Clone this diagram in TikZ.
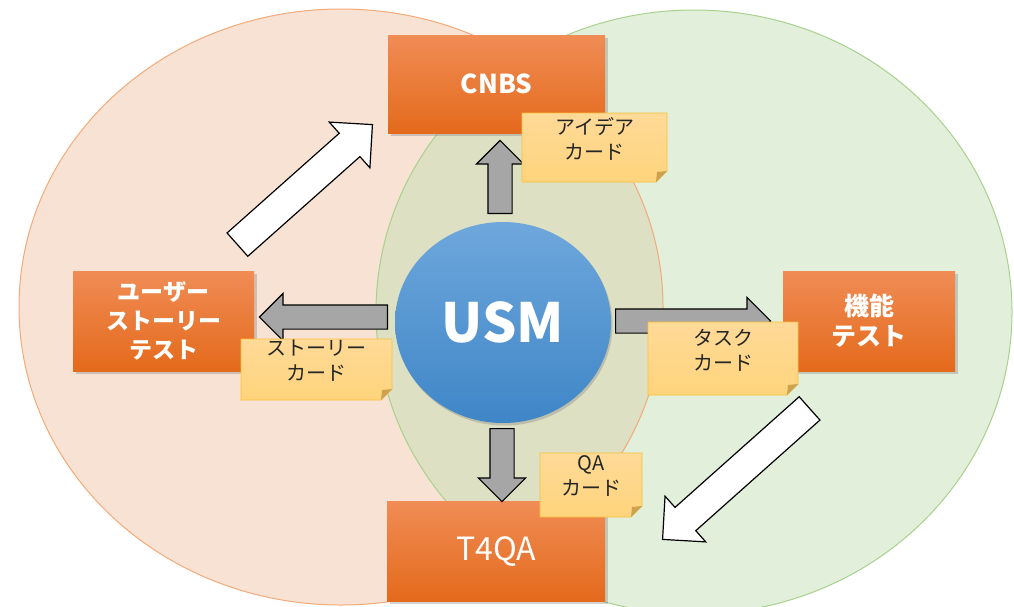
\documentclass[tikz,border=0pt]{standalone}
\usepackage{fontspec}
\setmainfont{Noto Sans CJK JP}
\usetikzlibrary{shapes.geometric,shapes.arrows,shadows,calc}

\definecolor{peachfill}{HTML}{F8E2D4}
\definecolor{peachline}{HTML}{F4AA78}
\definecolor{greenfill}{HTML}{E2EFDA}
\definecolor{greenline}{HTML}{A9D18E}
\definecolor{lensfill}{HTML}{DDE0C3}
\definecolor{boxtop}{HTML}{F08C55}
\definecolor{boxmid}{HTML}{F47D30}
\definecolor{boxbot}{HTML}{E46A1C}
\definecolor{usmtop}{HTML}{6EA7DC}
\definecolor{usmbot}{HTML}{3F86C7}
\definecolor{cardtop}{HTML}{FFDA98}
\definecolor{cardbot}{HTML}{FFD47C}
\definecolor{cardline}{HTML}{F8C13A}
\definecolor{cardfold}{HTML}{CDA350}
\definecolor{arrowgray}{HTML}{A6A6A6}
\definecolor{textgray}{HTML}{262626}

% block arrow from one named point to another
\newcommand{\blockarrow}[3]{%
  \path let \p1=(#2), \p2=(#3), \n1={atan2(\y2-\y1,\x2-\x1)}, \n2={veclen(\x2-\x1,\y2-\y1)} in
    node[#1, anchor=tail, rotate=\n1, minimum height=\n2] at (\p1) {};
}
% sticky card: name, centre, width, height, text
\newcommand{\stickycard}[5]{%
  \begin{scope}[shift={(#2)}]
    \shade[top color=cardtop, bottom color=cardbot, draw=cardline, line width=0.9pt]
      (-#3/2,-#4/2) -- (#3/2,-#4/2) -- (#3/2,#4/2-11) -- (#3/2-11,#4/2) -- (-#3/2,#4/2) -- cycle;
    \fill[cardfold] (#3/2,#4/2-11) -- (#3/2-11,#4/2) -- (#3/2-10,#4/2-10) -- cycle;
  \end{scope}
  \node[cardtext, minimum width=#3pt, minimum height=#4pt] (#1) at (#2) {#5};
}

\begin{document}
\begin{tikzpicture}[x=1pt, y=-1pt,
  box/.style={rectangle, inner sep=0pt, top color=boxtop, middle color=boxmid, bottom color=boxbot,
    text=white, align=center, drop shadow={shadow xshift=2.5pt, shadow yshift=-3pt, opacity=.35}},
  usmball/.style={ellipse, inner sep=0pt, minimum width=216pt, minimum height=201pt,
    top color=usmtop, bottom color=usmbot, text=white,
    font=\bfseries\fontsize{54}{60}\selectfont,
    drop shadow={shadow xshift=1.5pt, shadow yshift=-2.5pt, opacity=.35}},
  grayarrow/.style={single arrow, draw=black, line width=1.2pt, fill=arrowgray,
    inner xsep=0pt, inner ysep=11.5pt, minimum width=46pt, single arrow head extend=11.5pt},
  whitearrow/.style={single arrow, draw=black, line width=1.2pt, fill=white,
    inner xsep=0pt, inner ysep=15pt, minimum width=60pt, single arrow head extend=15pt},
  cardtext/.style={rectangle, inner sep=0pt, text=textgray, align=center, text depth=18pt,
    font=\fontsize{20}{25}\selectfont}]
  \useasboundingbox (0,0) rectangle (1014,606);
  \clip (0,0) rectangle (1014,606);

  \fill[peachfill] (341,307) ellipse [x radius=322, y radius=298];
  \fill[greenfill] (694,312) ellipse [x radius=318, y radius=302];
  \begin{scope}
    \clip (341,307) ellipse [x radius=322, y radius=298];
    \fill[lensfill] (694,312) ellipse [x radius=318, y radius=302];
  \end{scope}
  \draw[peachline, line width=1pt] (341,307) ellipse [x radius=322, y radius=298];
  \draw[greenline, line width=1pt] (694,312) ellipse [x radius=318, y radius=302];

  \node[box, minimum width=217pt, minimum height=98pt, font=\bfseries\fontsize{26}{30}\selectfont] (cnbs) at (496.5,84) {CNBS};
  \node[box, minimum width=181pt, minimum height=100pt, font=\bfseries\fontsize{23}{29}\selectfont] (storytest) at (163.5,321) {ユーザー\\ストーリー\\テスト};
  \node[box, minimum width=172pt, minimum height=100pt, font=\bfseries\fontsize{25}{30}\selectfont] (functest) at (869,321) {機能\\テスト};
  \node[box, minimum width=218pt, minimum height=100pt, font=\fontsize{32}{36}\selectfont] (t4qa) at (496,551) {T4QA};
  \node[usmball] (usm) at (503,322.5) {USM};

  \coordinate (upTail) at (500,214);   \coordinate (upTip) at (500,141);
  \coordinate (downTail) at (502,428); \coordinate (downTip) at (502,501);
  \coordinate (leftTail) at (388,317); \coordinate (leftTip) at (260,317);
  \coordinate (rightTail) at (615,321); \coordinate (rightTip) at (770,321);
  \coordinate (neTail) at (237,245);   \coordinate (neTip) at (372,125);
  \coordinate (swTail) at (810,408);   \coordinate (swTip) at (663,539);

  \blockarrow{whitearrow}{neTail}{neTip}
  \blockarrow{whitearrow}{swTail}{swTip}
  \blockarrow{grayarrow}{upTail}{upTip}
  \blockarrow{grayarrow}{downTail}{downTip}
  \blockarrow{grayarrow}{leftTail}{leftTip}
  \blockarrow{grayarrow}{rightTail}{rightTip}

  \stickycard{ideacard}{594.5,147.5}{145}{69}{アイデア\\カード}
  \stickycard{storycard}{316.5,369.5}{151}{61}{ストーリー\\カード}
  \stickycard{taskcard}{723,358.5}{150}{73}{タスク\\カード}
  \stickycard{qacard}{591,485}{102}{64}{QA\\カード}
\end{tikzpicture}
\end{document}
